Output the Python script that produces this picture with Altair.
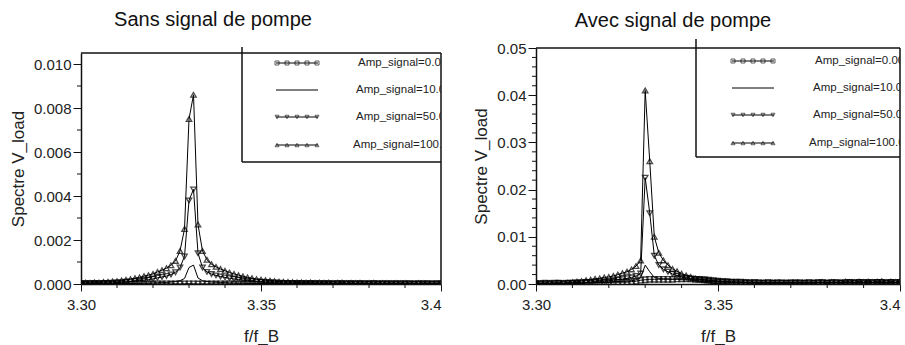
import altair as alt
import pandas as pd

# ---------------- data ----------------
FREQ = [
    3.30000, 3.30125, 3.30250, 3.30375, 3.30500, 3.30625, 3.30750, 3.30875, 3.31000, 3.31125,
    3.31250, 3.31375, 3.31500, 3.31625, 3.31750, 3.31875, 3.32000, 3.32125, 3.32250, 3.32375,
    3.32500, 3.32625, 3.32750, 3.32875, 3.33000, 3.33125, 3.33250, 3.33375, 3.33500, 3.33625,
    3.33750, 3.33875, 3.34000, 3.34125, 3.34250, 3.34375, 3.34500, 3.34625, 3.34750, 3.34875,
    3.35000, 3.35125, 3.35250, 3.35375, 3.35500, 3.35625, 3.35750, 3.35875, 3.36000, 3.36125,
    3.36250, 3.36375, 3.36500, 3.36625, 3.36750, 3.36875, 3.37000, 3.37125, 3.37250, 3.37375,
    3.37500, 3.37625, 3.37750, 3.37875, 3.38000, 3.38125, 3.38250, 3.38375, 3.38500, 3.38625,
    3.38750, 3.38875, 3.39000, 3.39125, 3.39250, 3.39375, 3.39500, 3.39625, 3.39750, 3.39875,
    3.40000,
]

LABELS = ["Amp_signal=0.000", "Amp_signal=10.000", "Amp_signal=50.000", "Amp_signal=100.00"]
TITLES = ["Sans signal de pompe", "Avec signal de pompe"]

# Sans signal de pompe
SANS_0 = [
    0.00001, 0.00000, 0.00001, 0.00000, 0.00001, 0.00000, 0.00001, 0.00000, 0.00001, 0.00000,
    0.00001, 0.00000, 0.00001, 0.00001, 0.00000, 0.00001, 0.00000, 0.00001, 0.00000, 0.00001,
    0.00000, 0.00001, 0.00000, 0.00001, 0.00001, 0.00001, 0.00000, 0.00001, 0.00000, 0.00001,
    0.00000, 0.00001, 0.00000, 0.00001, 0.00000, 0.00001, 0.00000, 0.00001, 0.00000, 0.00001,
    0.00000, 0.00001, 0.00000, 0.00001, 0.00000, 0.00001, 0.00000, 0.00001, 0.00000, 0.00001,
    0.00000, 0.00001, 0.00000, 0.00001, 0.00000, 0.00001, 0.00000, 0.00001, 0.00000, 0.00001,
    0.00000, 0.00001, 0.00000, 0.00001, 0.00000, 0.00001, 0.00000, 0.00001, 0.00000, 0.00001,
    0.00000, 0.00001, 0.00000, 0.00001, 0.00000, 0.00001, 0.00000, 0.00001, 0.00000, 0.00001,
    0.00000,
]
SANS_10 = [
    0.00000, 0.00001, 0.00001, 0.00001, 0.00001, 0.00001, 0.00001, 0.00001, 0.00001, 0.00002,
    0.00002, 0.00002, 0.00003, 0.00003, 0.00004, 0.00004, 0.00005, 0.00006, 0.00006, 0.00007,
    0.00009, 0.00011, 0.00015, 0.00025, 0.00075, 0.00086, 0.00027, 0.00015, 0.00011, 0.00009,
    0.00008, 0.00007, 0.00006, 0.00005, 0.00005, 0.00004, 0.00004, 0.00003, 0.00003, 0.00002,
    0.00002, 0.00002, 0.00002, 0.00001, 0.00001, 0.00001, 0.00001, 0.00001, 0.00001, 0.00001,
    0.00001, 0.00001, 0.00001, 0.00001, 0.00000, 0.00001, 0.00000, 0.00001, 0.00001, 0.00000,
    0.00001, 0.00000, 0.00001, 0.00000, 0.00000, 0.00001, 0.00000, 0.00000, 0.00001, 0.00000,
    0.00000, 0.00000, 0.00001, 0.00000, 0.00000, 0.00000, 0.00000, 0.00001, 0.00000, 0.00000,
    0.00000,
]
SANS_50 = [
    0.00002, 0.00003, 0.00003, 0.00004, 0.00003, 0.00005, 0.00005, 0.00006, 0.00007, 0.00008,
    0.00010, 0.00011, 0.00013, 0.00015, 0.00018, 0.00020, 0.00023, 0.00028, 0.00032, 0.00036,
    0.00043, 0.00053, 0.00075, 0.00125, 0.00380, 0.00430, 0.00140, 0.00075, 0.00055, 0.00045,
    0.00039, 0.00034, 0.00030, 0.00026, 0.00023, 0.00020, 0.00018, 0.00015, 0.00013, 0.00011,
    0.00010, 0.00009, 0.00008, 0.00007, 0.00006, 0.00005, 0.00005, 0.00004, 0.00004, 0.00004,
    0.00003, 0.00004, 0.00003, 0.00003, 0.00003, 0.00003, 0.00002, 0.00003, 0.00003, 0.00002,
    0.00003, 0.00002, 0.00003, 0.00002, 0.00002, 0.00003, 0.00002, 0.00002, 0.00002, 0.00002,
    0.00002, 0.00002, 0.00002, 0.00002, 0.00001, 0.00002, 0.00002, 0.00002, 0.00001, 0.00002,
    0.00002,
]
SANS_100 = [
    0.00004, 0.00006, 0.00005, 0.00007, 0.00006, 0.00009, 0.00010, 0.00012, 0.00013, 0.00016,
    0.00019, 0.00022, 0.00026, 0.00030, 0.00036, 0.00040, 0.00046, 0.00055, 0.00063, 0.00072,
    0.00085, 0.00105, 0.00150, 0.00250, 0.00750, 0.00860, 0.00270, 0.00150, 0.00110, 0.00090,
    0.00078, 0.00068, 0.00060, 0.00052, 0.00046, 0.00040, 0.00035, 0.00030, 0.00026, 0.00022,
    0.00020, 0.00017, 0.00015, 0.00013, 0.00011, 0.00010, 0.00009, 0.00008, 0.00007, 0.00007,
    0.00006, 0.00007, 0.00005, 0.00006, 0.00005, 0.00006, 0.00004, 0.00005, 0.00006, 0.00004,
    0.00005, 0.00004, 0.00005, 0.00003, 0.00004, 0.00005, 0.00003, 0.00004, 0.00004, 0.00003,
    0.00004, 0.00003, 0.00004, 0.00003, 0.00002, 0.00004, 0.00003, 0.00003, 0.00002, 0.00003,
    0.00003,
]

# Avec signal de pompe
AVEC_0 = [
    0.0001, 0.0001, 0.0002, 0.0001, 0.0002, 0.0002, 0.0001, 0.0002, 0.0002, 0.0002,
    0.0002, 0.0003, 0.0002, 0.0003, 0.0003, 0.0003, 0.0003, 0.0004, 0.0004, 0.0004,
    0.0004, 0.0005, 0.0006, 0.0008, 0.0009, 0.0010, 0.0010, 0.0010, 0.0010, 0.0010,
    0.0010, 0.0011, 0.0011, 0.0011, 0.0011, 0.0010, 0.0010, 0.0009, 0.0008, 0.0007,
    0.0006, 0.0005, 0.0005, 0.0004, 0.0004, 0.0004, 0.0003, 0.0003, 0.0003, 0.0003,
    0.0002, 0.0003, 0.0002, 0.0003, 0.0002, 0.0002, 0.0003, 0.0002, 0.0003, 0.0002,
    0.0003, 0.0002, 0.0003, 0.0003, 0.0002, 0.0003, 0.0003, 0.0002, 0.0003, 0.0003,
    0.0002, 0.0003, 0.0003, 0.0002, 0.0003, 0.0003, 0.0003, 0.0002, 0.0003, 0.0003,
    0.0003,
]
AVEC_10 = [
    0.0000, 0.0001, 0.0001, 0.0001, 0.0001, 0.0001, 0.0001, 0.0002, 0.0002, 0.0002,
    0.0002, 0.0003, 0.0003, 0.0003, 0.0004, 0.0004, 0.0004, 0.0005, 0.0005, 0.0006,
    0.0006, 0.0007, 0.0009, 0.0013, 0.0040, 0.0026, 0.0014, 0.0012, 0.0011, 0.0011,
    0.0010, 0.0010, 0.0009, 0.0009, 0.0008, 0.0007, 0.0006, 0.0006, 0.0005, 0.0005,
    0.0004, 0.0004, 0.0004, 0.0003, 0.0003, 0.0003, 0.0003, 0.0002, 0.0002, 0.0002,
    0.0003, 0.0002, 0.0002, 0.0003, 0.0002, 0.0002, 0.0003, 0.0002, 0.0003, 0.0002,
    0.0003, 0.0002, 0.0003, 0.0003, 0.0002, 0.0003, 0.0003, 0.0003, 0.0004, 0.0003,
    0.0003, 0.0004, 0.0003, 0.0004, 0.0003, 0.0004, 0.0004, 0.0003, 0.0004, 0.0003,
    0.0004,
]
AVEC_50 = [
    0.0000, 0.0001, 0.0001, 0.0001, 0.0001, 0.0002, 0.0001, 0.0002, 0.0002, 0.0003,
    0.0003, 0.0004, 0.0004, 0.0005, 0.0006, 0.0006, 0.0007, 0.0008, 0.0009, 0.0010,
    0.0012, 0.0014, 0.0017, 0.0022, 0.0225, 0.0150, 0.0060, 0.0040, 0.0031, 0.0026,
    0.0021, 0.0018, 0.0015, 0.0013, 0.0011, 0.0010, 0.0009, 0.0008, 0.0007, 0.0006,
    0.0005, 0.0005, 0.0004, 0.0004, 0.0003, 0.0003, 0.0003, 0.0002, 0.0003, 0.0002,
    0.0002, 0.0003, 0.0002, 0.0002, 0.0003, 0.0002, 0.0002, 0.0003, 0.0002, 0.0002,
    0.0003, 0.0002, 0.0003, 0.0003, 0.0002, 0.0003, 0.0003, 0.0002, 0.0003, 0.0004,
    0.0003, 0.0004, 0.0003, 0.0004, 0.0003, 0.0004, 0.0004, 0.0003, 0.0004, 0.0003,
    0.0004,
]
AVEC_100 = [
    0.0000, 0.0001, 0.0001, 0.0002, 0.0001, 0.0002, 0.0002, 0.0003, 0.0004, 0.0005,
    0.0006, 0.0008, 0.0009, 0.0011, 0.0012, 0.0014, 0.0015, 0.0017, 0.0020, 0.0023,
    0.0026, 0.0031, 0.0038, 0.0050, 0.0410, 0.0260, 0.0100, 0.0066, 0.0050, 0.0040,
    0.0032, 0.0027, 0.0022, 0.0018, 0.0015, 0.0012, 0.0010, 0.0009, 0.0008, 0.0007,
    0.0006, 0.0005, 0.0005, 0.0004, 0.0004, 0.0003, 0.0004, 0.0003, 0.0003, 0.0002,
    0.0003, 0.0002, 0.0003, 0.0002, 0.0002, 0.0003, 0.0002, 0.0003, 0.0002, 0.0003,
    0.0002, 0.0003, 0.0003, 0.0004, 0.0003, 0.0004, 0.0003, 0.0004, 0.0005, 0.0004,
    0.0004, 0.0005, 0.0004, 0.0005, 0.0004, 0.0005, 0.0006, 0.0004, 0.0005, 0.0004,
    0.0005,
]

X_MAJOR = [3.30, 3.35, 3.40]
X_MINOR = [3.31, 3.32, 3.33, 3.34, 3.36, 3.37, 3.38, 3.39]
SANS_Y_MAJOR = [0.000, 0.002, 0.004, 0.006, 0.008, 0.010]
SANS_Y_MINOR = [0.001, 0.003, 0.005, 0.007, 0.009]
AVEC_Y_MAJOR = [0.00, 0.01, 0.02, 0.03, 0.04, 0.05]
AVEC_Y_MINOR = [0.002, 0.004, 0.006, 0.008, 0.012, 0.014, 0.016, 0.018,
                0.022, 0.024, 0.026, 0.028, 0.032, 0.034, 0.036, 0.038,
                0.042, 0.044, 0.046, 0.048]

FONT = "Liberation Sans, Arial, Helvetica, sans-serif"
INK = "#111111"
SHAPES = ["square", "triangle-down", "triangle-up"]
MSIZE = 30


def panel(title, series, ymax, ymajor, yminor, yfmt, W, H, ytop, title_cx, title_y,
          ytitle_x, leg_left, leg_top, leg_bottom, row_y, sym_x, text_x):
    rows = []
    for lab, vals in zip(LABELS, series):
        for f, v in zip(FREQ, vals):
            rows.append({"f": f, "v": v, "s": lab})
    df = pd.DataFrame(rows)

    xs = alt.Scale(domain=[3.30, 3.40], nice=False, zero=False)
    ys = alt.Scale(domain=[0, ymax], range=[H, ytop], nice=False, zero=True)
    shape_scale = alt.Scale(domain=[LABELS[0], LABELS[2], LABELS[3]], range=SHAPES)

    xaxis = alt.Axis(
        values=X_MAJOR, title="f/f_B", grid=False,
        labelExpr="datum.value > 3.399 ? '3.4' : format(datum.value, '.2f')",
        labelAlign={"condition": {"test": "datum.value > 3.399", "value": "right"}, "value": "center"},
        labelFlush=False, tickSize=7, labelPadding=6, titleY=52, titleBaseline="middle",
    )
    yaxis = alt.Axis(
        values=ymajor, format=yfmt, title="Spectre V_load", grid=False,
        tickSize=8, labelPadding=2, titleX=ytitle_x, titleBaseline="middle",
        titleY=(H + ytop) / 2,
    )

    line = alt.Chart(df).mark_line(color="black", strokeWidth=1, clip=True).encode(
        x=alt.X("f:Q", scale=xs, axis=xaxis),
        y=alt.Y("v:Q", scale=ys, axis=yaxis),
        detail="s:N",
    )
    pts = alt.Chart(df).transform_filter(alt.datum.s != LABELS[1]).mark_point(
        filled=False, color="black", size=MSIZE, strokeWidth=1.3, clip=True
    ).encode(
        x="f:Q", y="v:Q",
        shape=alt.Shape("s:N", scale=shape_scale, legend=None),
    )
    xminor = alt.Chart(pd.DataFrame({"t": X_MINOR})).mark_rule(color=INK, strokeWidth=1).encode(
        x=alt.X("t:Q"), y=alt.value(H), y2=alt.value(H + 4)
    )
    yminor_r = alt.Chart(pd.DataFrame({"t": yminor})).mark_rule(color=INK, strokeWidth=1).encode(
        y=alt.Y("t:Q"), x=alt.value(-4), x2=alt.value(0)
    )

    one = pd.DataFrame({"a": [0]})
    frame_top = alt.Chart(one).mark_rule(color=INK, strokeWidth=1.5).encode(
        x=alt.value(0), x2=alt.value(W), y=alt.value(ytop)
    )
    frame_right = alt.Chart(one).mark_rule(color=INK, strokeWidth=1.5).encode(
        x=alt.value(W), y=alt.value(ytop), y2=alt.value(H)
    )
    box_v = alt.Chart(one).mark_rule(color=INK, strokeWidth=1.5).encode(
        x=alt.value(leg_left), y=alt.value(leg_top), y2=alt.value(leg_bottom)
    )
    box_h = alt.Chart(one).mark_rule(color=INK, strokeWidth=1.5).encode(
        x=alt.value(leg_left), x2=alt.value(W), y=alt.value(leg_bottom)
    )
    ttl = alt.Chart(pd.DataFrame({"t": [title]})).mark_text(
        font=FONT, fontSize=20, color="#111", align="center", baseline="alphabetic"
    ).encode(x=alt.value(title_cx), y=alt.value(title_y), text="t:N")

    leg_lines = pd.DataFrame(
        [{"x0": sym_x[0] - 1, "x1": sym_x[-1] + 1, "y": row_y[i]} for i in range(4)]
    )
    leg_line = alt.Chart(leg_lines).mark_rule(color="black", strokeWidth=1).encode(
        x=alt.X("x0:Q", scale=None, axis=None), x2="x1:Q",
        y=alt.Y("y:Q", scale=None, axis=None),
    )
    leg_pts_df = pd.DataFrame(
        [{"px": sx, "py": row_y[i], "s": LABELS[i]} for i in (0, 2, 3) for sx in sym_x]
    )
    leg_pts = alt.Chart(leg_pts_df).mark_point(
        filled=False, color="black", size=16, strokeWidth=0.9
    ).encode(
        x=alt.X("px:Q", scale=None, axis=None),
        y=alt.Y("py:Q", scale=None, axis=None),
        shape=alt.Shape("s:N", scale=shape_scale, legend=None),
    )
    leg_txt_df = pd.DataFrame(
        [{"px": text_x[i], "py": row_y[i], "label": LABELS[i]} for i in range(4)]
    )
    leg_txt = alt.Chart(leg_txt_df).mark_text(
        align="left", baseline="middle", font=FONT, fontSize=11.5, color="#222", clip=True
    ).encode(
        x=alt.X("px:Q", scale=None, axis=None),
        y=alt.Y("py:Q", scale=None, axis=None),
        text="label:N",
    )

    return alt.layer(
        line, pts, xminor, yminor_r, frame_top, frame_right, box_v, box_h,
        leg_line, leg_pts, leg_txt, ttl
    ).properties(width=W, height=H)


left = panel(
    TITLES[0], [SANS_0, SANS_10, SANS_50, SANS_100],
    0.0105, SANS_Y_MAJOR, SANS_Y_MINOR, ".3f",
    360, 236, 5, 132, -22, -63,
    161, -1, 114, [15, 42, 69, 97], [196, 206, 216, 226, 236], [277, 275, 275, 272],
)
right = panel(
    TITLES[1], [AVEC_0, AVEC_10, AVEC_50, AVEC_100],
    0.05, AVEC_Y_MAJOR, AVEC_Y_MINOR, ".2f",
    364, 236, 0, 137, -21, -55,
    160, -9, 109, [13, 40, 67, 95], [197, 207, 217, 227, 237], [279, 277, 277, 273],
)

chart = alt.hconcat(left, right, spacing=28).properties(
    padding={"left": 8, "top": 9, "right": 0, "bottom": 0},
    background="white",
).configure_view(
    stroke="transparent"
).configure_axis(
    domainColor=INK, domainWidth=1.5, tickColor=INK, tickWidth=1,
    labelColor="#222", titleColor="#222",
    labelFont=FONT, labelFontSize=15,
    titleFont=FONT, titleFontSize=17, titleFontWeight="normal",
)

chart.save("out.html", embed_options={"renderer": "svg", "actions": False})
